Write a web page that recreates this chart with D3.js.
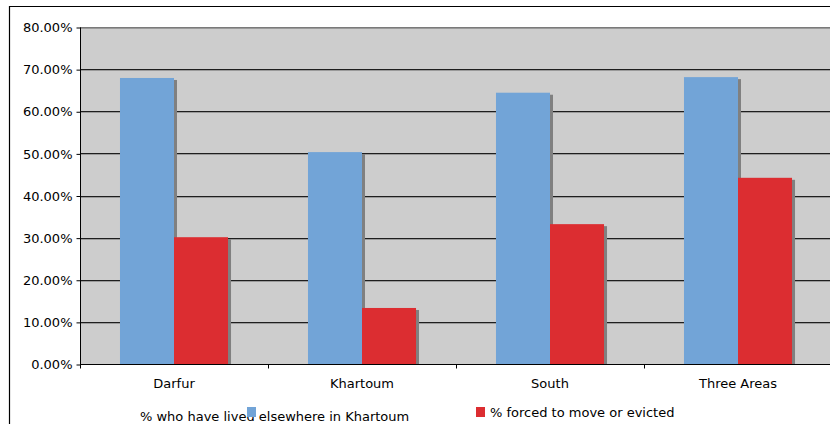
<!DOCTYPE html>
<html>
<head>
<meta charset="utf-8">
<script src="https://cdn.jsdelivr.net/npm/d3@7/dist/d3.min.js"></script>
<style>
  html, body { margin: 0; padding: 0; background: #fff; }
  svg { display: block; }
  text { font-family: "DejaVu Sans", Verdana, sans-serif; fill: #000; }
</style>
</head>
<body>
<svg id="chart" width="830" height="424"></svg>
<script>
const categories = ["Darfur", "Khartoum", "South", "Three Areas"];
const seriesNames = ["% who have lived elsewhere in Khartoum", "% forced to move or evicted"];
const livedElsewhere = [0.679, 0.503, 0.644, 0.681];
const forcedToMove = [0.301, 0.133, 0.332, 0.442];
const yTicks = [0, 0.1, 0.2, 0.3, 0.4, 0.5, 0.6, 0.7, 0.8];
const seriesColors = ["#72a4d7", "#dc2d31"];

const svg = d3.select("#chart");
const W = 830, H = 424;
const plot = { left: 80, right: 832, top: 27, bottom: 364 };
const FS = "13px";

// chart frame
svg.append("line").attr("x1", 9).attr("x2", W).attr("y1", 6.5).attr("y2", 6.5)
  .attr("stroke", "#000").attr("stroke-width", 1.2);
svg.append("line").attr("x1", 9.5).attr("x2", 9.5).attr("y1", 6).attr("y2", H)
  .attr("stroke", "#000").attr("stroke-width", 1.2);

const x0 = d3.scaleBand().domain(categories).range([plot.left, plot.right]).padding(0);
const x1 = d3.scaleBand().domain(seriesNames).range([0, x0.bandwidth()]).paddingInner(0).paddingOuter(0.74);
const y = d3.scaleLinear().domain([0, 0.8]).range([plot.bottom, plot.top]);

// plot area
svg.append("rect").attr("x", plot.left).attr("y", plot.top)
  .attr("width", plot.right - plot.left).attr("height", plot.bottom - plot.top)
  .attr("fill", "#cdcdcd");

// gridlines with subtle shadow
const grid = svg.append("g");
yTicks.filter(t => t > 0).forEach(t => {
  const yy = Math.round(y(t));
  grid.append("line").attr("x1", plot.left).attr("x2", plot.right)
    .attr("y1", yy + 1.5).attr("y2", yy + 1.5).attr("stroke", "#9a9a9a");
  grid.append("line").attr("x1", plot.left).attr("x2", plot.right)
    .attr("y1", yy + 0.5).attr("y2", yy + 0.5)
    .attr("stroke", t === 0.8 ? "#7a7a7a" : "#1e1e1e");
});

// bars
const data = categories.map((c, i) => ({ cat: c, values: [livedElsewhere[i], forcedToMove[i]] }));
const groups = svg.append("g").selectAll("g").data(data).join("g")
  .attr("transform", d => `translate(${x0(d.cat)},0)`);

groups.selectAll("rect.shadow").data(d => d.values.map((v, j) => ({ v, s: seriesNames[j], j })))
  .join("rect").attr("class", "shadow")
  .attr("x", d => x1(d.s) + 3).attr("y", d => y(d.v) + 2)
  .attr("width", x1.bandwidth()).attr("height", d => plot.bottom - y(d.v) - 2)
  .attr("fill", "#808080");
groups.selectAll("rect.bar").data(d => d.values.map((v, j) => ({ v, s: seriesNames[j], j })))
  .join("rect").attr("class", "bar")
  .attr("x", d => x1(d.s)).attr("y", d => y(d.v))
  .attr("width", x1.bandwidth()).attr("height", d => plot.bottom - y(d.v))
  .attr("fill", d => seriesColors[d.j]);

// y axis
const yAxis = d3.axisLeft(y).tickValues(yTicks).tickFormat(d3.format(".2%")).tickSize(4).tickPadding(4);
const gy = svg.append("g").attr("transform", `translate(${plot.left + 0.5},0.5)`).call(yAxis);
gy.select(".domain").attr("stroke", "#000").attr("d", `M0,${plot.top}V${plot.bottom}`);
gy.selectAll(".tick line").attr("stroke", "#000");
gy.selectAll(".tick text").style("font-size", FS).attr("fill", "#000")
  .style("font-family", '"DejaVu Sans", Verdana, sans-serif');

// x axis
const gx = svg.append("g").attr("transform", `translate(0,${plot.bottom + 0.5})`);
gx.append("line").attr("x1", plot.left).attr("x2", plot.right).attr("y1", 0).attr("y2", 0)
  .attr("stroke", "#000");
gx.selectAll("line.tk").data(categories.concat(["_end"])).join("line").attr("class", "tk")
  .attr("x1", (d, i) => Math.round(plot.left + i * x0.step()) + 0.5)
  .attr("x2", (d, i) => Math.round(plot.left + i * x0.step()) + 0.5)
  .attr("y1", 0).attr("y2", 4).attr("stroke", "#000");
gx.selectAll("text").data(categories).join("text")
  .attr("x", d => x0(d) + x0.bandwidth() / 2).attr("y", 23)
  .attr("text-anchor", "middle").style("font-size", FS).text(d => d);

// legend
const legend = svg.append("g");
const legendItems = [
  { name: seriesNames[0], color: seriesColors[0], sx: 247, sy: 407, tx: 140, ty: 421 },
  { name: seriesNames[1], color: seriesColors[1], sx: 476, sy: 407, tx: 490, ty: 417 }
];
legendItems.forEach(it => {
  legend.append("text").attr("x", it.tx).attr("y", it.ty).style("font-size", FS).text(it.name);
  legend.append("rect").attr("x", it.sx).attr("y", it.sy).attr("width", 9).attr("height", 10)
    .attr("fill", it.color);
});
</script>
</body>
</html>
